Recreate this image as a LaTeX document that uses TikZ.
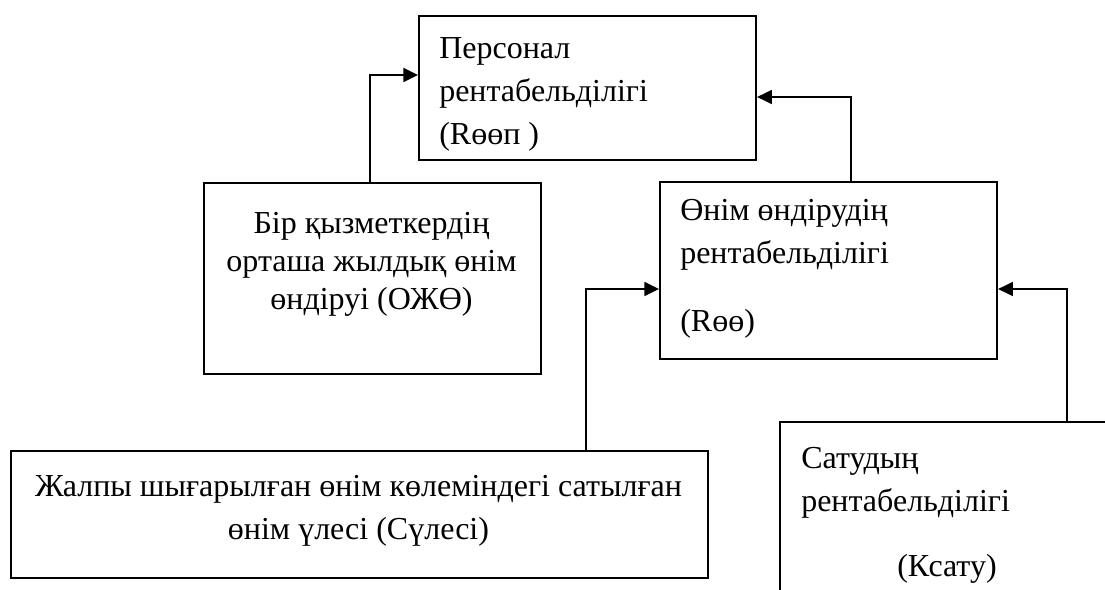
\documentclass[tikz,border=0pt]{standalone}
\usepackage{fontspec}
\setmainfont{Liberation Serif}
\usetikzlibrary{arrows.meta,calc}
\begin{document}
\begin{tikzpicture}[x=0.75pt,y=-0.75pt,
  box/.style={draw, line width=1.6pt, rectangle, inner sep=0pt, anchor=north west},
  txt/.style={inner sep=0pt, font=\fontsize{24pt}{32.25pt}\selectfont},
  conn/.style={line width=1.2pt, -{Triangle[length=11pt,width=10.5pt]}}]
\useasboundingbox (0,0) rectangle (1105,589);
\clip (0,0) rectangle (1105,589);
% boxes
\node[box, minimum width=252.75pt, minimum height=108pt] (b1) at (418,15) {};
\node[box, minimum width=252.75pt, minimum height=143.25pt] (b2) at (203,182) {};
\node[box, minimum width=252.75pt, minimum height=132.75pt] (b3) at (659,181) {};
\node[box, minimum width=522.75pt, minimum height=95.25pt] (b4) at (10,450) {};
\node[box, minimum width=278.25pt, minimum height=164.25pt] (b5) at (779,421) {};
% texts
\node[txt, align=left, anchor=north west] (t1) at (439,37) {Персонал\\рентабельділігі\\(Rөөп )};
\node[txt, align=center, anchor=north, font=\fontsize{24pt}{28.5pt}\selectfont] (t2) at (371.5,212) {Бір қызметкердің\\орташа жылдық өнім\\өндіруі (ОЖӨ)};
\node[txt, align=left, anchor=north west] (t3) at (680,199) {Өнім өндірудің\\рентабельділігі\\[19pt](Rөө)};
\node[txt, align=center, anchor=north] (t4) at (358.5,475) {Жалпы шығарылған өнім көлеміндегі сатылған\\өнім үлесі (Сүлесі)};
\node[txt, align=left, anchor=north west] (t5) at (801,447) {Сатудың\\рентабельділігі\\[16.5pt]\hspace*{72pt}(Ксату)};
% connectors
\coordinate (k1) at (370,75);
\draw[conn] (b2.north -| k1) |- (b1.west |- k1);
\coordinate (k2) at (851,97);
\draw[conn] (b3.north -| k2) |- (b1.east |- k2);
\coordinate (k3) at (586,289);
\draw[conn] (b4.north -| k3) |- (b3.west |- k3);
\coordinate (k4) at (1067,289);
\draw[conn] (b5.north -| k4) |- (b3.east |- k4);
\end{tikzpicture}
\end{document}
